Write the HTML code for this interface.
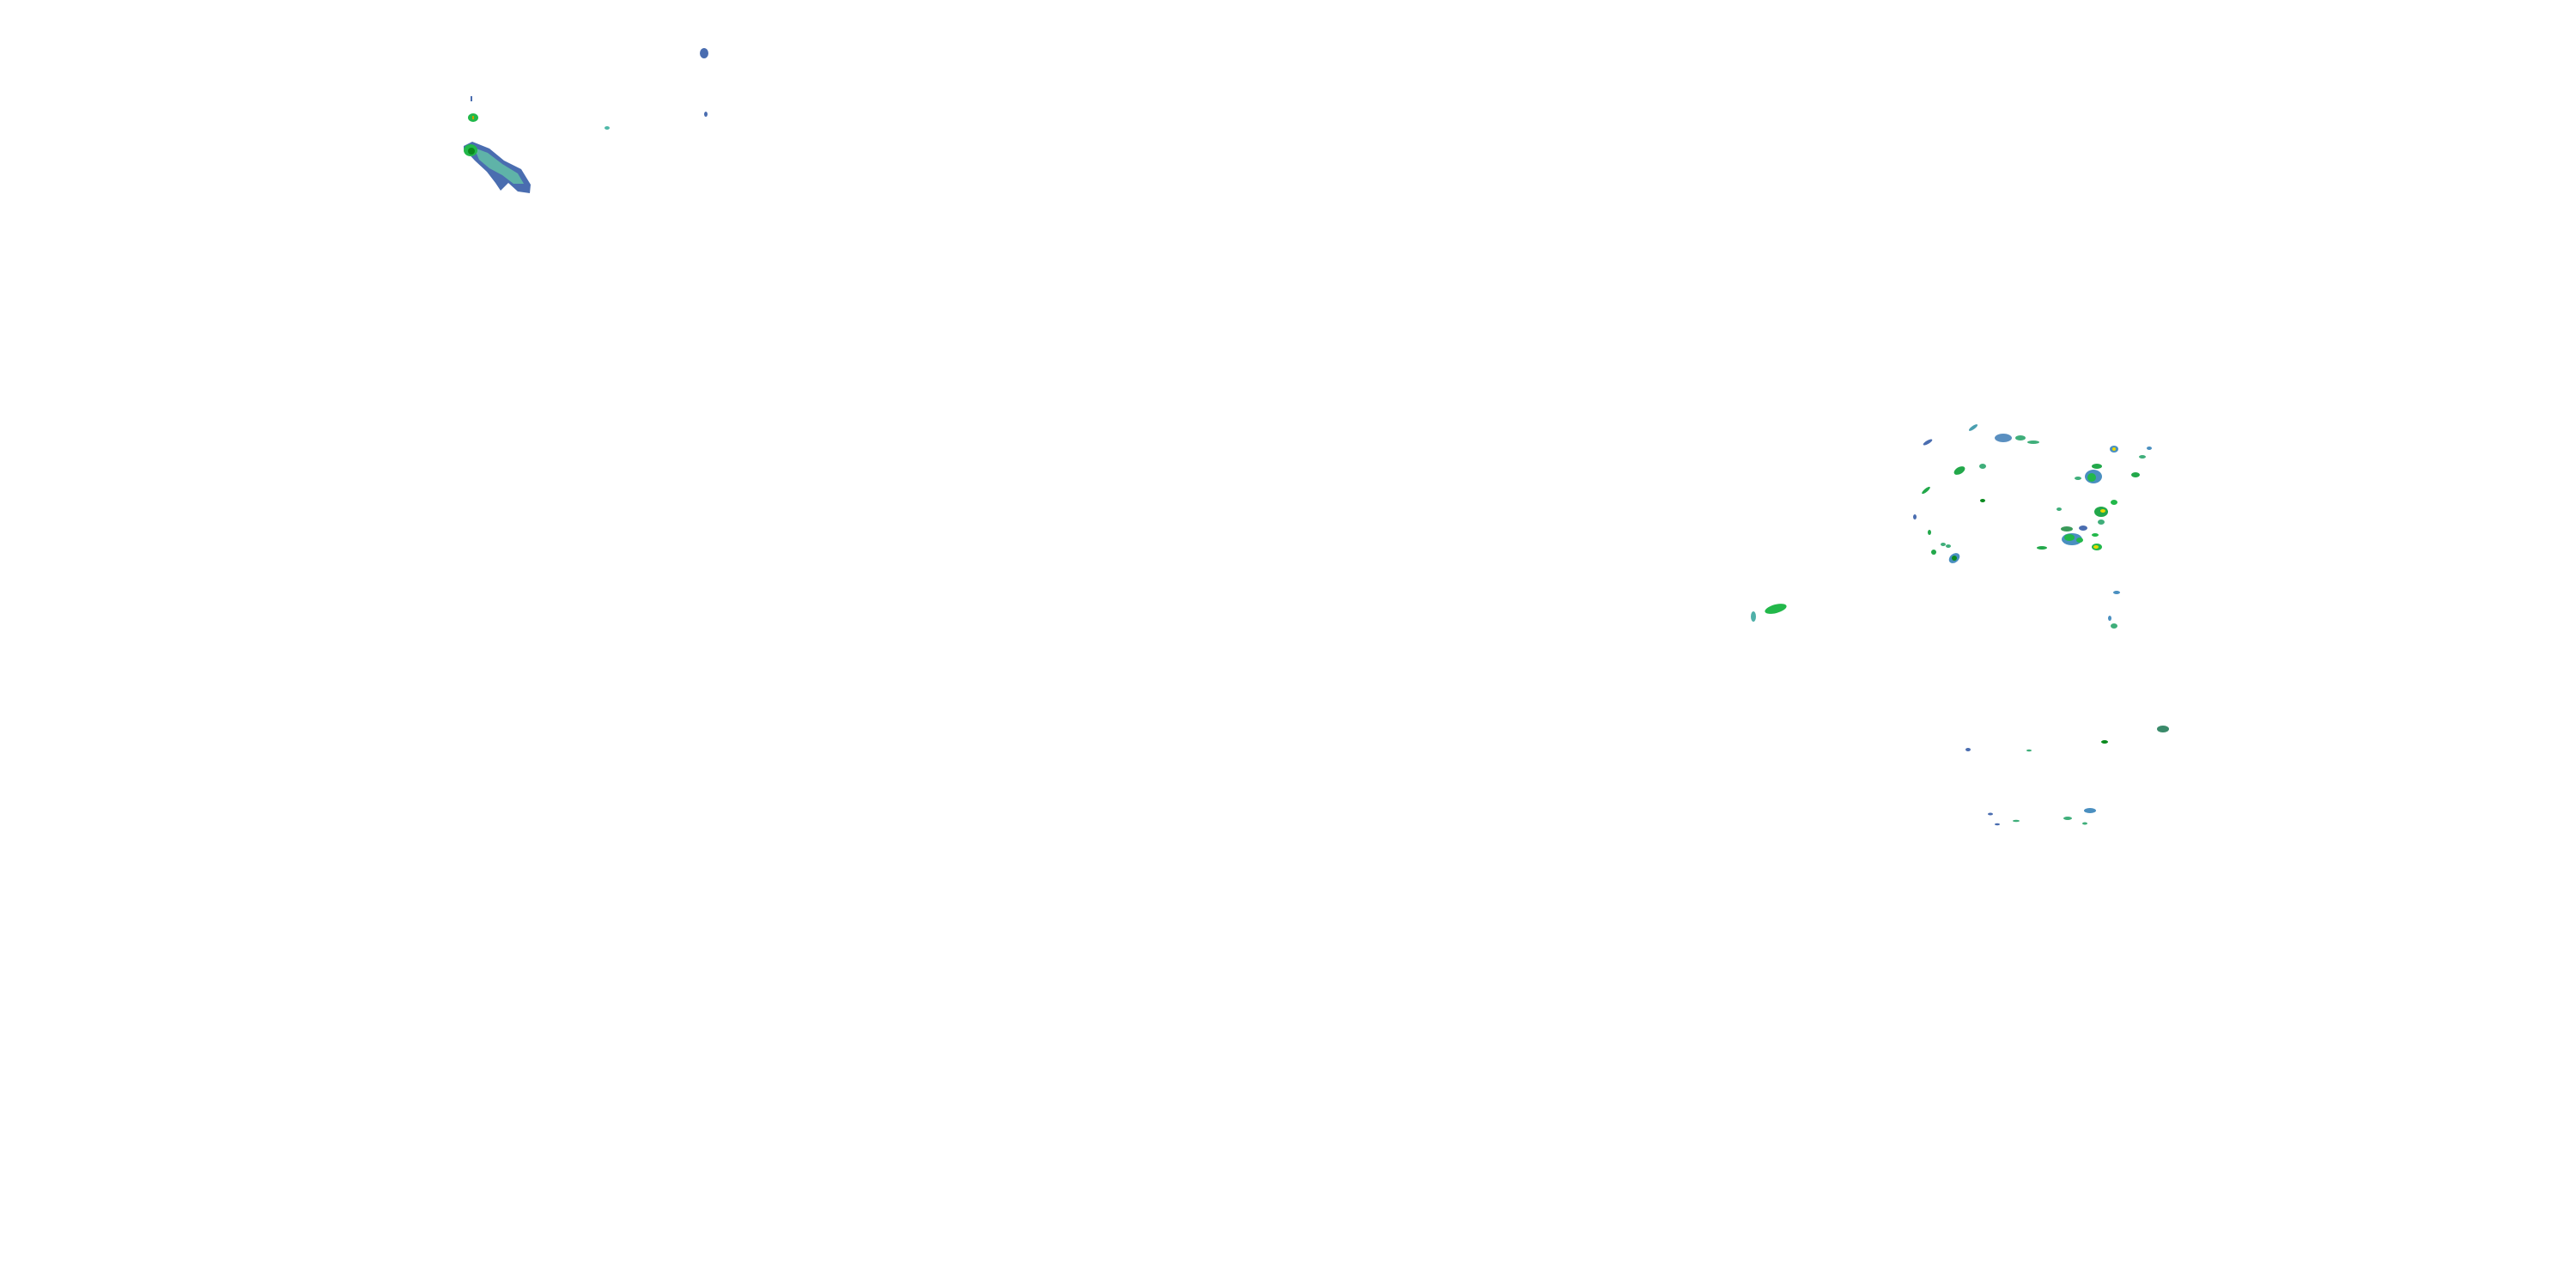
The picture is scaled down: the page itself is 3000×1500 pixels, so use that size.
<!DOCTYPE html>
<html><head><style>html,body{margin:0;padding:0;background:#fff;width:3000px;height:1500px;overflow:hidden}</style></head>
<body>
<svg width="3000" height="1500" viewBox="0 0 3000 1500" xmlns="http://www.w3.org/2000/svg">
<rect width="3000" height="1500" fill="#fff"/>
<!-- NW main blob -->
<polygon points="540,170 550,165 570,173 587,187 607,197 618,215 617,225 603,223 592,213 583,222 577,213 567,200 553,187 540,173" fill="#4a6db0"/>
<polygon points="552,172 568,178 585,191 603,202 610,214 598,214 585,204 570,196 558,186" fill="#5fb3a8"/>
<ellipse cx="548" cy="175" rx="8" ry="7" fill="#22b84a"/>
<ellipse cx="549" cy="176" rx="4" ry="4" fill="#0a8a1e"/>
<ellipse cx="551" cy="137" rx="6" ry="5" fill="#22b84a"/>
<rect x="550" y="135" width="2" height="4" fill="#c8a000"/>
<rect x="548" y="112" width="2" height="6" fill="#4a6db0"/>
<ellipse cx="707" cy="149" rx="3" ry="2" fill="#4fb8a8"/>
<ellipse cx="820" cy="62" rx="5" ry="6" fill="#4a6db0"/>
<ellipse cx="822" cy="133" rx="2" ry="3" fill="#4a6db0"/>
<!-- SE cluster -->
<g fill="#3fae7a">
<ellipse cx="2298" cy="498" rx="6" ry="2" transform="rotate(-35 2298 498)" fill="#4a9fb0"/>
<ellipse cx="2333" cy="510" rx="10" ry="5" fill="#5a8fc0"/>
<ellipse cx="2353" cy="510" rx="6" ry="3"/>
<ellipse cx="2368" cy="515" rx="7" ry="2"/>
<ellipse cx="2245" cy="515" rx="6" ry="2" transform="rotate(-30 2245 515)" fill="#4a6db0"/>
<ellipse cx="2282" cy="548" rx="7" ry="4" transform="rotate(-30 2282 548)" fill="#22a84a"/>
<ellipse cx="2309" cy="543" rx="4" ry="3"/>
<ellipse cx="2243" cy="571" rx="6" ry="2" transform="rotate(-40 2243 571)" fill="#22a84a"/>
<ellipse cx="2438" cy="555" rx="10" ry="8" fill="#4a8fc0"/>
<ellipse cx="2436" cy="556" rx="5" ry="5" fill="#22b84a"/>
<ellipse cx="2442" cy="543" rx="6" ry="3" fill="#22a84a"/>
<ellipse cx="2462" cy="523" rx="5" ry="4" fill="#4a8fc0"/>
<ellipse cx="2462" cy="523" rx="2" ry="2" fill="#e8d800"/>
<ellipse cx="2487" cy="553" rx="5" ry="3" fill="#22a84a"/>
<ellipse cx="2495" cy="532" rx="4" ry="2"/>
<ellipse cx="2503" cy="522" rx="3" ry="2" fill="#4a8fc0"/>
<ellipse cx="2420" cy="557" rx="4" ry="2"/>
<ellipse cx="2462" cy="585" rx="4" ry="3" fill="#22b84a"/>
<ellipse cx="2447" cy="596" rx="8" ry="6" fill="#22a84a"/>
<ellipse cx="2449" cy="595" rx="3" ry="2" fill="#e8d800"/>
<ellipse cx="2407" cy="616" rx="7" ry="3" fill="#3a9a5a"/>
<ellipse cx="2413" cy="628" rx="12" ry="7" fill="#4a8fc0"/>
<ellipse cx="2410" cy="626" rx="6" ry="4" fill="#22b84a"/>
<ellipse cx="2422" cy="629" rx="4" ry="3" fill="#22b84a"/>
<ellipse cx="2442" cy="637" rx="6" ry="4" fill="#22b84a"/>
<ellipse cx="2441" cy="637" rx="3" ry="2" fill="#e8d800"/>
<ellipse cx="2440" cy="623" rx="4" ry="2" fill="#22b84a"/>
<ellipse cx="2426" cy="615" rx="5" ry="3" fill="#4a6db0"/>
<ellipse cx="2447" cy="608" rx="4" ry="3"/>
<ellipse cx="2378" cy="638" rx="6" ry="2" fill="#22a84a"/>
<ellipse cx="2276" cy="650" rx="7" ry="5" transform="rotate(-40 2276 650)" fill="#4a8fc0"/>
<ellipse cx="2276" cy="650" rx="3" ry="3" fill="#0a8a1e"/>
<ellipse cx="2252" cy="643" rx="3" ry="3" fill="#22a84a"/>
<ellipse cx="2263" cy="634" rx="3" ry="2"/>
<ellipse cx="2269" cy="636" rx="3" ry="2"/>
<ellipse cx="2247" cy="620" rx="2" ry="3" fill="#22a84a"/>
<ellipse cx="2230" cy="602" rx="2" ry="3" fill="#4a6db0"/>
<ellipse cx="2309" cy="583" rx="3" ry="2" fill="#0a8a1e"/>
<ellipse cx="2398" cy="593" rx="3" ry="2"/>
<ellipse cx="2465" cy="690" rx="4" ry="2" fill="#4a8fc0"/>
<ellipse cx="2457" cy="720" rx="2" ry="3" fill="#4a8fc0"/>
<ellipse cx="2462" cy="729" rx="4" ry="3"/>
<ellipse cx="2068" cy="709" rx="13" ry="5" transform="rotate(-15 2068 709)" fill="#22b84a"/>
<ellipse cx="2042" cy="718" rx="3" ry="6" fill="#4fb0a8"/>
<ellipse cx="2519" cy="849" rx="7" ry="4" fill="#3a8a6a"/>
<ellipse cx="2451" cy="864" rx="4" ry="2" fill="#0a8a1e"/>
<ellipse cx="2434" cy="944" rx="7" ry="3" fill="#4a8fc0"/>
<ellipse cx="2408" cy="953" rx="5" ry="2"/>
<ellipse cx="2428" cy="959" rx="3" ry="1.5"/>
<ellipse cx="2318" cy="948" rx="3" ry="1.5" fill="#4a6db0"/>
<ellipse cx="2348" cy="956" rx="4" ry="1.2"/>
<ellipse cx="2326" cy="960" rx="3" ry="1.2" fill="#4a6db0"/>
<ellipse cx="2292" cy="873" rx="3" ry="2" fill="#4a6db0"/>
<ellipse cx="2363" cy="874" rx="3" ry="1.2"/>
</g>
</svg>
</body></html>
